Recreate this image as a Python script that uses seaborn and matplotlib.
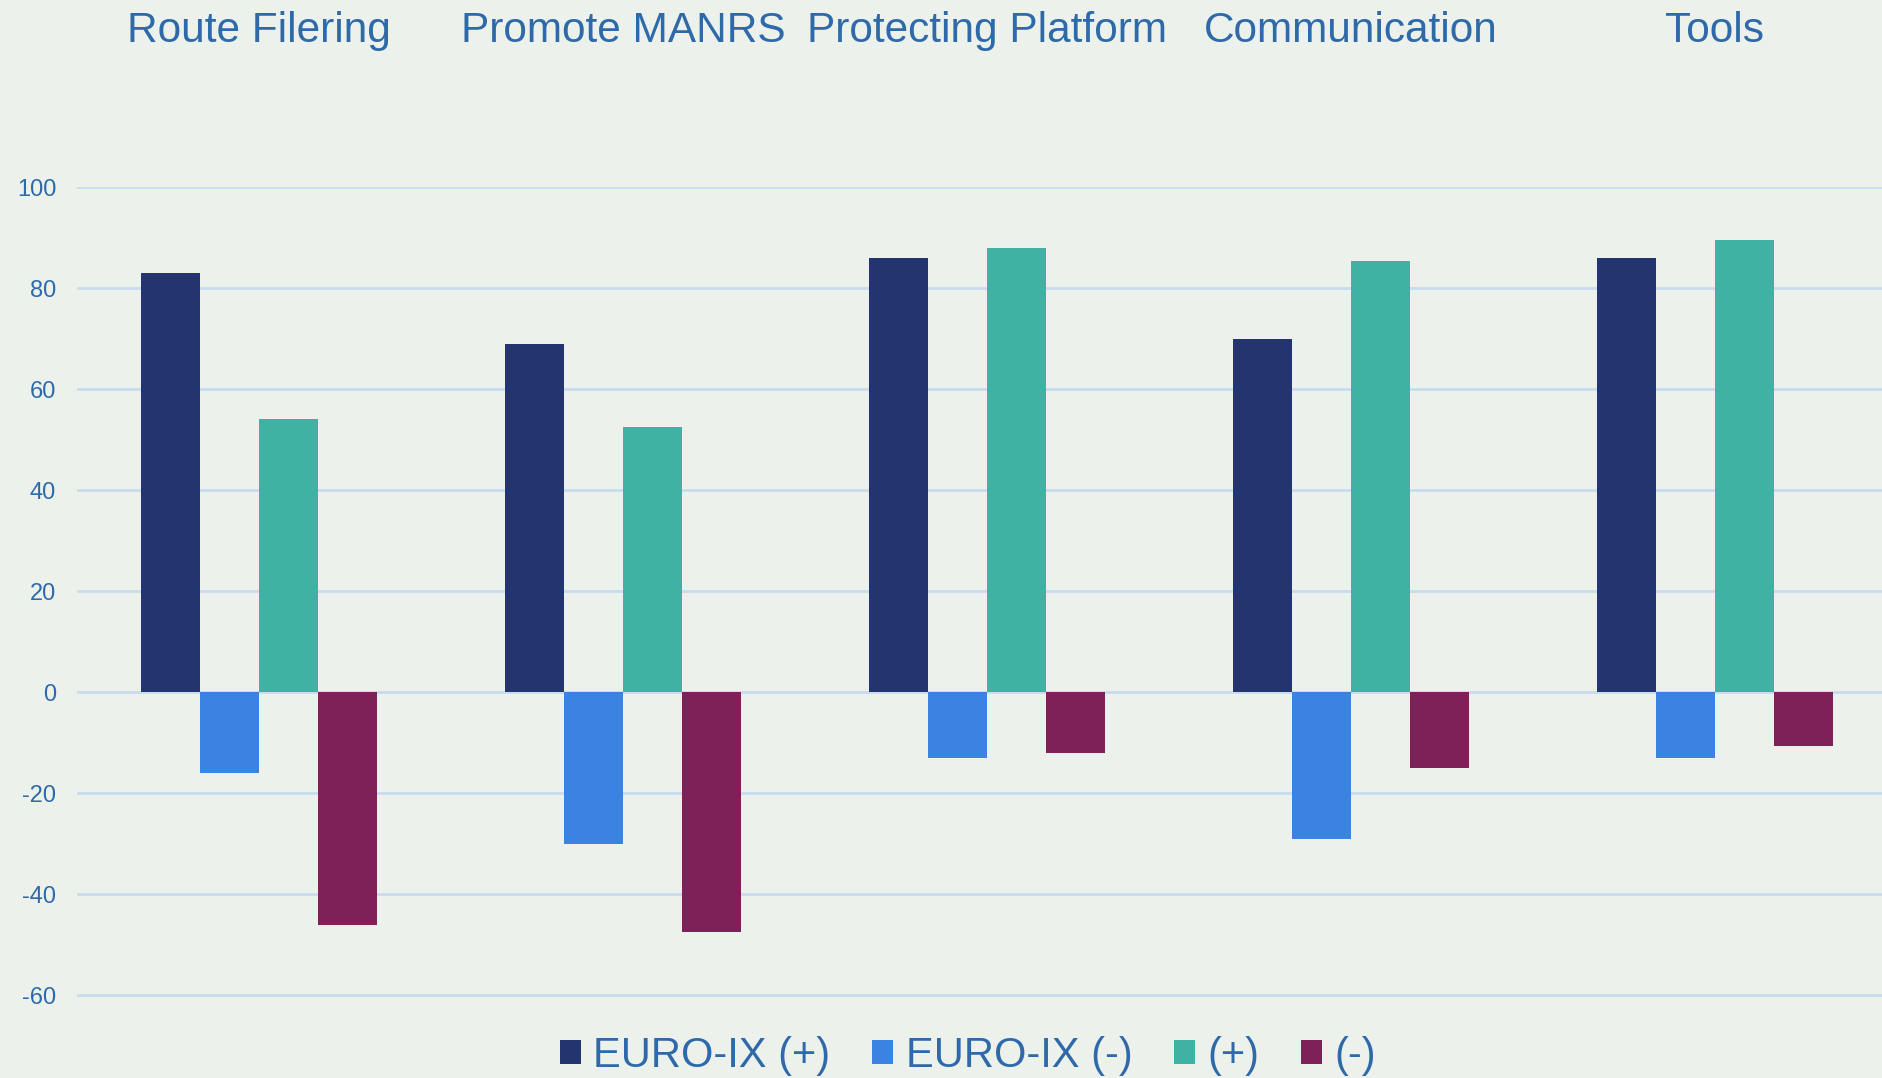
import pandas as pd
import matplotlib
matplotlib.use("Agg")
import matplotlib.pyplot as plt
import seaborn as sns

# Datos
categorias = ["Route Filering", "Promote MANRS", "Protecting Platform", "Communication", "Tools"]
series = ["EURO-IX (+)", "EURO-IX (-)", "(+)", "(-)"]
euroix_pos = [83, 69, 86, 70, 86]
euroix_neg = [-16, -30, -13, -29, -13]
otros_pos = [54, 52.5, 88, 85.3, 89.5]
otros_neg = [-46, -47.5, -12, -15, -10.7]
colores = ["#24346e", "#3b82e3", "#40b2a4", "#7e2159"]

texto = "#2e6aa9"
fondo = "#edf1eb"

sns.set_theme(style="white")
plt.rcParams["font.family"] = ["Liberation Sans", "DejaVu Sans"]
plt.rcParams["axes.unicode_minus"] = False

filas = []
for nombre, valores in zip(series, [euroix_pos, euroix_neg, otros_pos, otros_neg]):
    for cat, v in zip(categorias, valores):
        filas.append({"categoria": cat, "serie": nombre, "valor": v})
df = pd.DataFrame(filas)

fig = plt.figure(figsize=(18.83, 10.78), dpi=100, facecolor=fondo)
ax = fig.add_axes([77 / 1883, 1 - 997 / 1078, 1820 / 1883, (997 - 187) / 1078])
ax.set_facecolor(fondo)

sns.barplot(data=df, x="categoria", y="valor", hue="serie", order=categorias,
            hue_order=series, palette=colores, width=0.65, gap=0,
            saturation=1, ax=ax, legend=True, linewidth=0)

ax.set_ylim(-60.3, 100)
ax.set_xlim(-0.5, len(categorias) - 0.5)
ax.set_yticks(range(-60, 101, 20))
ax.yaxis.grid(True, color="#c9dcef", linewidth=2)
ax.set_axisbelow(True)
for s in ax.spines.values():
    s.set_visible(False)

ax.xaxis.tick_top()
ax.tick_params(axis="x", length=0, pad=98, labelsize=30.5, labelcolor=texto)
ax.tick_params(axis="y", length=0, pad=15, labelsize=17, labelcolor=texto)
ax.set_xlabel("")
ax.set_ylabel("")

handles, labels = ax.get_legend_handles_labels()
ax.get_legend().remove()
fig.legend(handles, labels, loc="center", bbox_to_anchor=(968 / 1883, 1 - 1056 / 1078),
           ncol=4, frameon=False, fontsize=30, labelcolor=texto,
           handlelength=0.5, handleheight=0.5, handletextpad=0.3, columnspacing=1.0,
           borderpad=0, borderaxespad=0)

fig.savefig("out.png", dpi=100, facecolor=fondo)
